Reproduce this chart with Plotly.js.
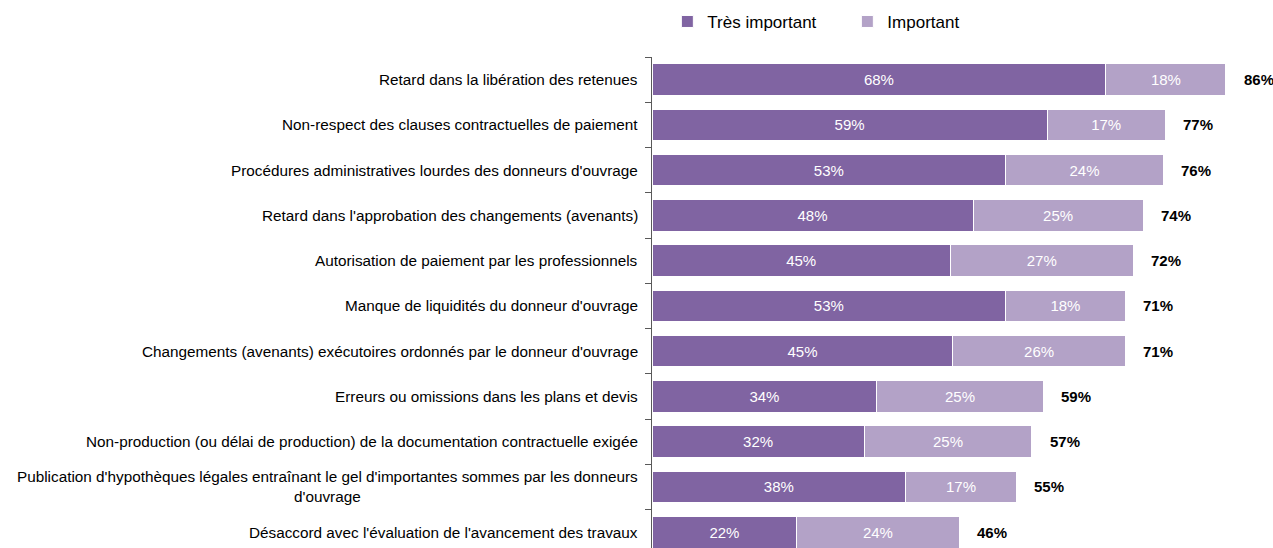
<!DOCTYPE html>
<html>
<head>
<meta charset="utf-8">
<script src="https://cdn.plot.ly/plotly-3.0.1.min.js"></script>
<style>html,body{margin:0;padding:0;background:#fff;}#chart{width:1273px;height:548px;}</style>
</head>
<body>
<div id="chart"></div>
<script>
const categories = [
  "Retard dans la libération des retenues",
  "Non-respect des clauses contractuelles de paiement",
  "Procédures administratives lourdes des donneurs d'ouvrage",
  "Retard dans l'approbation des changements (avenants)",
  "Autorisation de paiement par les professionnels",
  "Manque de liquidités du donneur d'ouvrage",
  "Changements (avenants) exécutoires ordonnés par le donneur d'ouvrage",
  "Erreurs ou omissions dans les plans et devis",
  "Non-production (ou délai de production) de la documentation contractuelle exigée",
  "Publication d'hypothèques légales entraînant le gel d'importantes sommes par les donneurs<br>d'ouvrage",
  "Désaccord avec l'évaluation de l'avancement des travaux"
];
const tresImportant = [68, 59.2, 53, 48.1, 44.7, 53, 45.1, 33.7, 31.8, 38, 21.7];
const important = [18, 17.7, 23.6, 25.5, 27.4, 17.9, 25.8, 24.9, 25.1, 16.6, 24.3];
const tresLabels = ["68%","59%","53%","48%","45%","53%","45%","34%","32%","38%","22%"];
const impLabels = ["18%","17%","24%","25%","27%","18%","26%","25%","25%","17%","24%"];
const totalLabels = ["86%","77%","76%","74%","72%","71%","71%","59%","57%","55%","46%"];

const FONT = "'Liberation Sans Narrow', 'Arial Narrow', 'Liberation Sans', Arial, sans-serif";
const ids = categories.map((c, i) => i);

const traces = [
  {
    type: 'bar', orientation: 'h', name: 'Très important',
    y: ids, x: tresImportant, text: tresLabels,
    textposition: 'inside', insidetextanchor: 'middle',
    textfont: {color: '#ffffff', size: 15, family: FONT},
    marker: {color: '#8064A2', line: {color: '#ffffff', width: 1}},
    hoverinfo: 'none'
  },
  {
    type: 'bar', orientation: 'h', name: 'Important',
    y: ids, x: important, text: impLabels,
    textposition: 'inside', insidetextanchor: 'middle',
    textfont: {color: '#ffffff', size: 15, family: FONT},
    marker: {color: '#B3A2C7', line: {color: '#ffffff', width: 1}},
    hoverinfo: 'none'
  }
];

const annotations = [];
categories.forEach((c, i) => {
  annotations.push({
    xref: 'paper', yref: 'y', x: 0, y: i, text: c,
    xanchor: 'right', yanchor: 'middle', align: 'center',
    xshift: -12, showarrow: false,
    font: {family: FONT, size: 15.3, color: '#000000'}
  });
  annotations.push({
    xref: 'x', yref: 'y', x: tresImportant[i] + important[i], y: i,
    text: '<b>' + totalLabels[i] + '</b>',
    xanchor: 'left', yanchor: 'middle', xshift: 16, showarrow: false,
    font: {family: FONT, size: 15, color: '#000000'}
  });
});

const layout = {
  width: 1273, height: 548,
  margin: {l: 652, r: 7, t: 57, b: 0},
  barmode: 'stack', bargap: 0.3,
  paper_bgcolor: '#ffffff', plot_bgcolor: '#ffffff',
  font: {family: FONT, size: 15, color: '#000000'},
  showlegend: true,
  legend: {
    orientation: 'h', x: 0.025, xanchor: 'left',
    yref: 'container', y: 0.96, yanchor: 'middle',
    font: {family: FONT, size: 17, color: '#000000'},
    traceorder: 'normal', entrywidth: 135, entrywidthmode: 'pixels',
    itemwidth: 30
  },
  xaxis: {range: [0, 92], showgrid: false, zeroline: false, showticklabels: false, showline: false, ticks: ''},
  yaxis: {
    type: 'linear', range: [10.35, -0.5], showgrid: false, zeroline: false,
    showticklabels: false, showline: true, linecolor: '#595959', linewidth: 1,
    ticks: 'outside', ticklen: 6, tickcolor: '#595959',
    tickmode: 'array', tickvals: ids.map(i => i - 0.5).concat([10.5])
  },
  annotations: annotations
};

Plotly.newPlot('chart', traces, layout, {staticPlot: true, displayModeBar: false});
</script>
</body>
</html>
